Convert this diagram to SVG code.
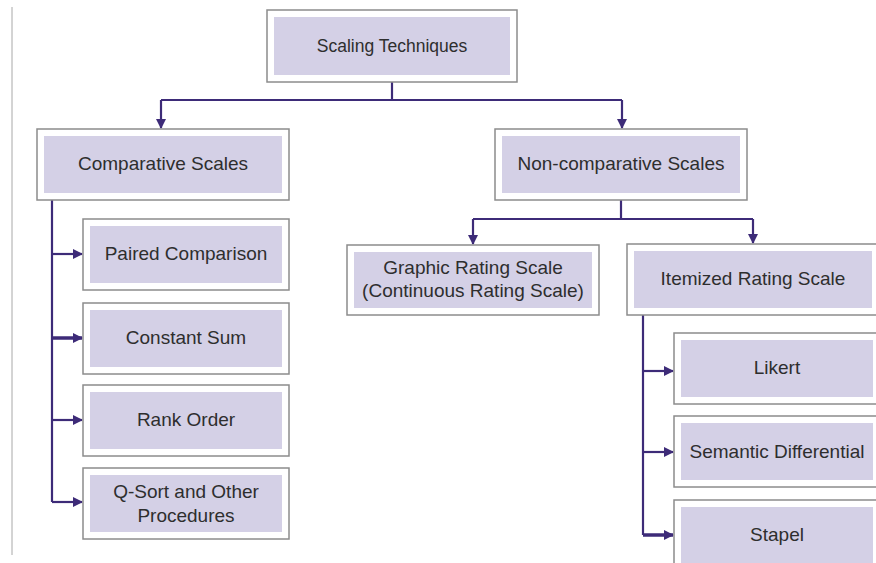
<svg xmlns="http://www.w3.org/2000/svg" width="876" height="563" viewBox="0 0 876 563">
<defs>
<style>
.outer{fill:#ffffff;stroke:#8c8c8c;stroke-width:1.5}
.inner{fill:#d4d0e6;stroke:none}
.t{font-family:"Liberation Sans",Arial,sans-serif;font-size:19px;fill:#2e2e2e;text-anchor:middle}
.t0{font-size:17.5px}
.ln{fill:none;stroke:#3d2b78;stroke-width:2.2}
.thick{stroke-width:3.5}
</style>
<marker id="ah" viewBox="0 0 10 10" refX="9" refY="5" markerWidth="10" markerHeight="10" markerUnits="userSpaceOnUse" orient="auto">
<path d="M0,0 L10,5 L0,10 Z" fill="#3d2b78"/>
</marker>
</defs>
<rect width="876" height="563" fill="#ffffff"/>
<line x1="12" y1="7" x2="12" y2="555" stroke="#a8a8a8" stroke-width="1"/>
<g id="connectors">
<path class="ln" d="M392,82 V100"/>
<path class="ln" d="M161,100 H622"/>
<path class="ln" d="M161,100 V128" marker-end="url(#ah)"/>
<path class="ln" d="M622,100 V128" marker-end="url(#ah)"/>
<path class="ln" d="M52,200 V502"/>
<path class="ln" d="M52,254 H82" marker-end="url(#ah)"/>
<path class="ln thick" d="M52,338 H82" marker-end="url(#ah)"/>
<path class="ln" d="M52,420 H82" marker-end="url(#ah)"/>
<path class="ln" d="M52,502 H82" marker-end="url(#ah)"/>
<path class="ln" d="M621,200 V219"/>
<path class="ln" d="M473,219 H753"/>
<path class="ln" d="M473,219 V244" marker-end="url(#ah)"/>
<path class="ln" d="M753,219 V243" marker-end="url(#ah)"/>
<path class="ln" d="M643,315 V535"/>
<path class="ln" d="M643,371 H673" marker-end="url(#ah)"/>
<path class="ln" d="M643,452 H673" marker-end="url(#ah)"/>
<path class="ln thick" d="M643,535 H673" marker-end="url(#ah)"/>
</g>
<g id="scaling-techniques">
<rect class="outer" x="267" y="10" width="250" height="72"/>
<rect class="inner" x="274" y="17" width="236" height="58"/>
<text class="t t0" x="392" y="52">Scaling Techniques</text>
</g>
<g id="comparative-scales">
<rect class="outer" x="37" y="129" width="252" height="71"/>
<rect class="inner" x="44" y="136" width="238" height="57"/>
<text class="t" x="163" y="170">Comparative Scales</text>
</g>
<g id="non-comparative-scales">
<rect class="outer" x="495" y="129" width="252" height="71"/>
<rect class="inner" x="502" y="136" width="238" height="57"/>
<text class="t" x="621" y="170">Non-comparative Scales</text>
</g>
<g id="paired-comparison">
<rect class="outer" x="83" y="219" width="206" height="71"/>
<rect class="inner" x="90" y="226" width="192" height="57"/>
<text class="t" x="186" y="260">Paired Comparison</text>
</g>
<g id="constant-sum">
<rect class="outer" x="83" y="303" width="206" height="71"/>
<rect class="inner" x="90" y="310" width="192" height="57"/>
<text class="t" x="186" y="344">Constant Sum</text>
</g>
<g id="rank-order">
<rect class="outer" x="83" y="385" width="206" height="71"/>
<rect class="inner" x="90" y="392" width="192" height="57"/>
<text class="t" x="186" y="426">Rank Order</text>
</g>
<g id="q-sort">
<rect class="outer" x="83" y="468" width="206" height="71"/>
<rect class="inner" x="90" y="475" width="192" height="57"/>
<text class="t" x="186" y="498">Q-Sort and Other</text>
<text class="t" x="186" y="522">Procedures</text>
</g>
<g id="graphic-rating-scale">
<rect class="outer" x="347" y="245" width="252" height="70"/>
<rect class="inner" x="354" y="252" width="238" height="56"/>
<text class="t" x="473" y="274">Graphic Rating Scale</text>
<text class="t" x="473" y="297">(Continuous Rating Scale)</text>
</g>
<g id="itemized-rating-scale">
<rect class="outer" x="627" y="244" width="252" height="71"/>
<rect class="inner" x="634" y="251" width="238" height="57"/>
<text class="t" x="753" y="285">Itemized Rating Scale</text>
</g>
<g id="likert">
<rect class="outer" x="674" y="333" width="206" height="71"/>
<rect class="inner" x="681" y="340" width="192" height="57"/>
<text class="t" x="777" y="374">Likert</text>
</g>
<g id="semantic-differential">
<rect class="outer" x="674" y="416" width="206" height="71"/>
<rect class="inner" x="681" y="423" width="192" height="57"/>
<text class="t" x="777" y="458">Semantic Differential</text>
</g>
<g id="stapel">
<rect class="outer" x="674" y="500" width="206" height="71"/>
<rect class="inner" x="681" y="507" width="192" height="57"/>
<text class="t" x="777" y="541">Stapel</text>
</g>
</svg>
